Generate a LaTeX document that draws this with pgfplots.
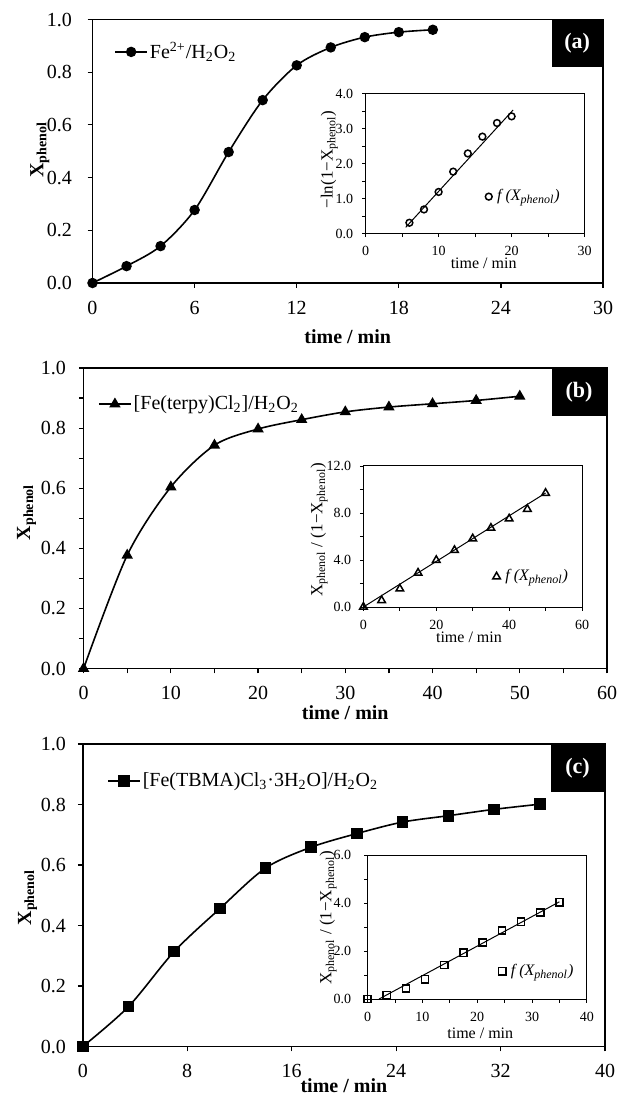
\documentclass[border=0pt]{standalone}
\usepackage{pgfplots}
\pgfplotsset{compat=1.18}
\usepackage{fontspec}
\setmainfont{Liberation Serif}
\newcommand{\fs}[1]{\fontsize{#1}{#1}\selectfont}
\newcommand{\Xp}{X\textsubscript{phenol}}
\tikzset{tagbox/.style={fill=black, text=white, font=\fs{11}\bfseries, inner sep=0pt, anchor=north east}}

\pgfplotsset{
 base/.style={
   scale only axis, anchor=north west,
   tick align=outside, xtick pos=bottom, ytick pos=left,
   /pgf/number format/assume math mode=true,
   legend cell align=left,
 },
 mainax/.style={base,
   axis line style={line width=0.7pt},
   major tick style={line width=0.6pt,black}, minor tick style={line width=0.6pt,black},
   major tick length=2.4pt, minor tick length=2.4pt,
   tick label style={font=\fs{10}},
   xticklabel style={anchor=center, inner sep=1pt, yshift=-10pt},
   yticklabel style={anchor=east, inner sep=0pt, /pgf/number format/fixed, /pgf/number format/fixed zerofill, /pgf/number format/precision=1},
   ymin=0, ymax=1, ytick={0,0.2,0.4,0.6,0.8,1.0},
   ylabel={\Xp},
   xlabel={time / min},
   label style={font=\fs{10}\bfseries, inner sep=1pt},
   ylabel style={anchor=center},
   xlabel style={anchor=center},
   legend style={draw=none, fill=none, inner sep=0pt, anchor=west, font=\fs{10}, nodes={inner sep=1pt}},
   legend image code/.code={\draw[mark repeat=2,mark phase=2,##1] plot coordinates {(0pt,0pt)(8pt,0pt)(16pt,0pt)};},
 },
 insetax/.style={base,
   axis background/.style={fill=white},
   axis line style={line width=0.5pt},
   major tick style={line width=0.45pt,black}, minor tick style={line width=0.45pt,black},
   major tick length=1.8pt, minor tick length=1.8pt,
   tick label style={font=\fs{7}},
   xticklabel style={anchor=center, inner sep=0.5pt, yshift=-7pt},
   yticklabel style={anchor=east, inner sep=0pt, /pgf/number format/fixed, /pgf/number format/fixed zerofill, /pgf/number format/precision=1},
   xlabel={time / min},
   xlabel style={font=\fs{8}, inner sep=0.5pt, anchor=center},
   ylabel style={font=\fs{8.5}, inner sep=0.5pt, anchor=center},
   legend style={draw=none, fill=none, inner sep=0pt, anchor=west, font=\fs{8}, nodes={inner sep=1pt}, column sep=1.5pt},
   legend image code/.code={\draw[##1] plot coordinates {(2pt,0pt)};},
 },
}

\begin{document}
\begin{tikzpicture}
\path[use as bounding box] (0,0) rectangle (309pt,-547.5pt);

% ---------------- (a) ----------------
\begin{axis}[mainax, at={(46.25pt,-9.75pt)}, width=255.25pt, height=131.75pt,
  xmin=0, xmax=30, xtick={0,6,12,18,24,30},
  yticklabel style={xshift=-7.75pt},
  ylabel style={at={(axis description cs:-0.103,0.505)}},
  xlabel style={at={(axis description cs:0.5,-0.205)}},
  legend style={at={(0.042,0.877)}}]
\addplot[black, line width=0.8pt, smooth, mark=*, mark size=2.2pt] coordinates {
 (0,0) (2,0.064) (4,0.14) (6,0.277) (8,0.497) (10,0.694) (12,0.826) (14,0.894) (16,0.933) (18,0.952) (20,0.961)};
\addlegendentry{Fe\textsuperscript{2+}/H\textsubscript{2}O\textsubscript{2}}
\node[tagbox, minimum width=25.5pt, minimum height=23.5pt] at (rel axis cs:1,1) {(a)};
\end{axis}

\begin{axis}[insetax, at={(182.8pt,-46.8pt)}, width=109.5pt, height=70pt,
  xmin=0, xmax=30, xtick={0,10,20,30}, minor xtick={5,15,25},
  ymin=0, ymax=4, ytick={0,1,2,3,4}, minor y tick num=1,
  yticklabel style={xshift=-4.2pt},
  ylabel={−ln(1−\Xp)},
  ylabel style={at={(axis description cs:-0.165,0.53)}},
  xlabel style={at={(axis description cs:0.539,-0.214)}},
  legend style={at={(0.545,0.264)}}]
\addplot[black, only marks, mark=o, mark size=1.7pt, line width=0.75pt] coordinates {
 (6,0.31) (8,0.69) (10,1.19) (12,1.77) (14,2.29) (16,2.77) (18,3.16) (20,3.35)};
\addlegendentry{\textit{f (\Xp)}}
\addplot[black, line width=0.5pt, forget plot] coordinates {(5.5,0.18) (20.2,3.53)};
\end{axis}

% ---------------- (b) ----------------
\begin{axis}[mainax, at={(41.8pt,-184pt)}, width=261.7pt, height=150.25pt,
  xmin=0, xmax=60, xtick={0,10,20,30,40,50,60}, minor x tick num=1, minor y tick num=1,
  yticklabel style={xshift=-6.3pt},
  ylabel style={at={(axis description cs:-0.109,0.52)}},
  xlabel style={at={(axis description cs:0.5,-0.148)}},
  legend style={at={(0.027,0.880)}}]
\addplot[black, line width=0.8pt, smooth, mark=triangle*, mark size=2.5pt] coordinates {
 (0,0) (5,0.377) (10,0.604) (15,0.743) (20,0.797) (25,0.828) (30,0.854) (35,0.870) (40,0.881) (45,0.892) (50,0.906)};
\addlegendentry{[Fe(terpy)Cl\textsubscript{2}]/H\textsubscript{2}O\textsubscript{2}}
\node[tagbox, minimum width=27.5pt, minimum height=24pt] at (rel axis cs:1,1) {(b)};
\end{axis}

\begin{axis}[insetax, at={(181.7pt,-233pt)}, width=109.3pt, height=70.5pt,
  xmin=0, xmax=60, xtick={0,20,40,60}, minor xtick={10,30,50},
  ymin=0, ymax=12, ytick={0,4,8,12}, minor ytick={2,6,10},
  yticklabel style={xshift=-4.2pt},
  ylabel={\Xp{} / (1−\Xp)},
  ylabel style={at={(axis description cs:-0.203,0.546)}},
  xlabel style={at={(axis description cs:0.483,-0.213)}},
  legend style={at={(0.59,0.215)}}]
\addplot[black, only marks, mark=triangle, mark size=2.2pt, line width=0.75pt] coordinates {
 (0,0) (5,0.56) (10,1.55) (15,2.9) (20,3.98) (25,4.83) (30,5.82) (35,6.72) (40,7.51) (45,8.33) (50,9.69)};
\addlegendentry{\textit{f (\Xp)}}
\addplot[black, line width=0.5pt, forget plot] coordinates {(0,0) (50,9.7)};
\end{axis}

% ---------------- (c) ----------------
\begin{axis}[mainax, at={(41.4pt,-372pt)}, width=261.1pt, height=151.25pt,
  xmin=0, xmax=40, xtick={0,8,16,24,32,40},
  yticklabel style={xshift=-5.9pt},
  ylabel style={at={(axis description cs:-0.106,0.493)}},
  xlabel style={at={(axis description cs:0.5,-0.131)}},
  legend style={at={(0.046,0.878)}}]
\addplot[black, line width=0.8pt, smooth, mark=square*, mark size=2.5pt] coordinates {
 (0,0) (3.5,0.132) (7,0.314) (10.5,0.456) (14,0.590) (17.5,0.659) (21,0.704) (24.5,0.742) (28,0.763) (31.5,0.784) (35,0.801)};
\addlegendentry{[Fe(TBMA)Cl\textsubscript{3}·3H\textsubscript{2}O]/H\textsubscript{2}O\textsubscript{2}}
\node[tagbox, minimum width=27pt, minimum height=24pt] at (rel axis cs:1,1) {(c)};
\end{axis}

\begin{axis}[insetax, at={(183.8pt,-427.5pt)}, width=109.6pt, height=72pt,
  xmin=0, xmax=40, xtick={0,10,20,30,40}, minor xtick={5,15,25,35},
  ymin=0, ymax=6, ytick={0,2,4,6}, minor ytick={1,3,5},
  yticklabel style={xshift=-6.3pt},
  ylabel={\Xp{} / (1−\Xp)},
  ylabel style={at={(axis description cs:-0.180,0.564)}},
  xlabel style={at={(axis description cs:0.514,-0.235)}},
  legend style={at={(0.596,0.193)}}]
\addplot[black, only marks, mark=square, mark size=1.8pt, line width=0.75pt] coordinates {
 (0,0) (3.5,0.17) (7,0.44) (10.5,0.82) (14,1.42) (17.5,1.93) (21,2.36) (24.5,2.85) (28,3.22) (31.5,3.6) (35,4.03)};
\addlegendentry{\textit{f (\Xp)}}
\addplot[black, line width=0.5pt, forget plot] coordinates {(2.1,0) (35,4.05)};
\end{axis}
\end{tikzpicture}
\end{document}
